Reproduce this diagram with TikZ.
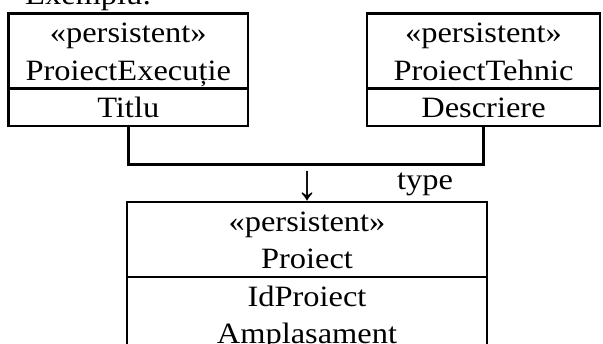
\documentclass[tikz,border=0pt]{standalone}
\usepackage{fontspec}
\setmainfont{Liberation Serif}[FakeStretch=1.1]
\newcommand{\umlstrut}{\rule[-8.5pt]{0pt}{37.5pt}}
\begin{document}
\begin{tikzpicture}[x=1pt, y=-1pt,
    head/.style={rectangle, draw=black, line width=2.5pt, inner sep=0pt, minimum height=75pt, anchor=north, align=center, font=\fontsize{29.5}{37.5}\selectfont},
    attr/.style={head, minimum height=37.5pt},
    lbl/.style={inner sep=0pt, font=\fontsize{29.5}{37.5}\selectfont},
    link/.style={line width=2.5pt}
]
\clip (0,0) rectangle (603,344);
\node[lbl, anchor=base west] (ex) at (25,5) {Exemplu:};
% clasele de sus
\node[head, minimum width=239.5pt] (hexec) at (128.25,12.5) {\umlstrut«persistent»\\\umlstrut ProiectExecuție};
\node[attr, minimum width=239.5pt] (aexec) at (128.25,87.5) {\umlstrut Titlu};
\node[head, minimum width=233pt] (htehn) at (483.5,12.5) {\umlstrut«persistent»\\\umlstrut ProiectTehnic};
\node[attr, minimum width=233pt] (atehn) at (483.5,87.5) {\umlstrut Descriere};
% clasa de baza
\node[head, minimum width=360pt] (hproi) at (307,201) {\umlstrut«persistent»\\\umlstrut Proiect};
\node[head, minimum width=360pt] (aproi) at (307,276) {\umlstrut IdProiect\\\umlstrut Amplasament};
\node[lbl, anchor=base, font=\fontsize{40}{40}\selectfont] (sag) at (307.5,199.5) {\scalebox{1}[1.25]{↓}};
\node[lbl, anchor=base west] (tip) at (397,190) {type};
\draw[link] (aexec.south) -- ++(0,37) -| (atehn.south);
\end{tikzpicture}
\end{document}
